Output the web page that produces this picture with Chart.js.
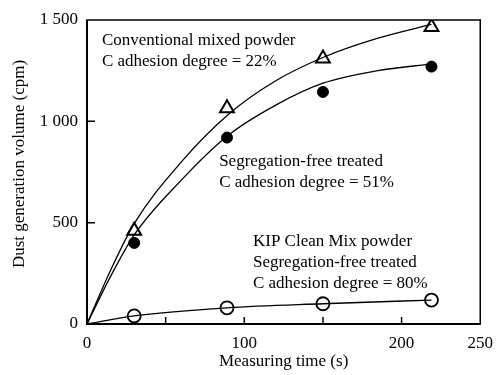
<!DOCTYPE html>
<html>
<head>
<meta charset="utf-8">
<script src="https://cdn.jsdelivr.net/npm/chart.js@4"></script>
<style>
  html, body { margin: 0; padding: 0; background: #fff; }
  #c { display: block; }
</style>
</head>
<body>
<canvas id="c" width="502" height="375"></canvas>
<script>
// ---- data ----
const times = [30, 89, 150, 219];
const conventional = [460, 1065, 1310, 1465];   // open triangles
const segregationFree = [400, 920, 1145, 1270]; // filled circles
const kipCleanMix = [40, 80, 100, 118];         // open circles

// fitted curves as drawn in the figure
const curveTimes = [0, 15, 30, 60, 90, 120, 150, 185, 219];
const conventionalCurve = [0, 265, 495, 800, 1035, 1200, 1315, 1410, 1478];
const segregationFreeCurve = [0, 235, 440, 710, 932, 1080, 1188, 1250, 1283];
const kipCurveTimes = [0, 30, 89, 150, 219];
const kipCurve = [0, 40, 80, 100, 118];

const xTickLabels = ['0', '100', '200', '250'];
const yTickLabels = ['0', '500', '1 000', '1 500'];

const labelsConventional = ['Conventional mixed powder', 'C adhesion degree = 22%'];
const labelsSegregation = ['Segregation-free treated', 'C adhesion degree = 51%'];
const labelsKip = ['KIP Clean Mix powder', 'Segregation-free treated', 'C adhesion degree = 80%'];

const FONT = '"Liberation Serif", "Times New Roman", serif';

function pts(xs, ys) { return xs.map((x, i) => ({ x: x, y: ys[i] })); }

const annotations = [
  { lines: labelsConventional, x: 9.5, y: 1400 },
  { lines: labelsSegregation, x: 84, y: 800 },
  { lines: labelsKip, x: 105.5, y: 405 }
];

const decor = {
  id: 'decor',
  afterDraw(chart) {
    const { ctx, chartArea: a, scales } = chart;
    ctx.save();
    ctx.strokeStyle = '#000';
    // frame
    ctx.lineWidth = 1.5;
    ctx.strokeRect(a.left, a.top, a.right - a.left, a.bottom - a.top);
    ctx.lineWidth = 2;
    ctx.beginPath();
    ctx.moveTo(a.left, a.top); ctx.lineTo(a.left, a.bottom); ctx.lineTo(a.right, a.bottom);
    ctx.stroke();
    // inward tick marks
    ctx.lineWidth = 1.5;
    ctx.beginPath();
    scales.x.ticks.forEach(t => {
      if (t.value <= scales.x.min || t.value >= scales.x.max) return;
      const px = scales.x.getPixelForValue(t.value);
      ctx.moveTo(px, a.bottom); ctx.lineTo(px, a.bottom - 7);
    });
    scales.y.ticks.forEach(t => {
      if (t.value <= scales.y.min || t.value >= scales.y.max) return;
      const py = scales.y.getPixelForValue(t.value);
      ctx.moveTo(a.left, py); ctx.lineTo(a.left + 8, py);
    });
    ctx.stroke();
    // annotations
    ctx.fillStyle = '#000';
    ctx.font = '17px ' + FONT;
    ctx.textAlign = 'left';
    ctx.textBaseline = 'middle';
    annotations.forEach(an => {
      const px = scales.x.getPixelForValue(an.x);
      const py = scales.y.getPixelForValue(an.y);
      an.lines.forEach((s, i) => ctx.fillText(s, px, py + i * 21));
    });
    // axis titles
    ctx.textAlign = 'center';
    ctx.fillText('Measuring time (s)', (a.left + a.right) / 2, 362);
    ctx.translate(20, (a.top + a.bottom) / 2 - 8);
    ctx.rotate(-Math.PI / 2);
    ctx.fillText('Dust generation volume (cpm)', 0, 0);
    ctx.restore();
  }
};

new Chart(document.getElementById('c'), {
  type: 'scatter',
  data: {
    datasets: [
      { type: 'line', data: pts(curveTimes, conventionalCurve), borderColor: '#000', borderWidth: 1.3,
        pointRadius: 0, cubicInterpolationMode: 'monotone', fill: false },
      { type: 'line', data: pts(curveTimes, segregationFreeCurve), borderColor: '#000', borderWidth: 1.3,
        pointRadius: 0, cubicInterpolationMode: 'monotone', fill: false },
      { type: 'line', data: pts(kipCurveTimes, kipCurve), borderColor: '#000', borderWidth: 1.3,
        pointRadius: 0, cubicInterpolationMode: 'monotone', fill: false },
      { label: 'Conventional', data: pts(times, conventional), pointStyle: 'triangle', pointRadius: 8,
        backgroundColor: '#fff', borderColor: '#000', borderWidth: 2 },
      { label: 'Segregation-free', data: pts(times, segregationFree), pointStyle: 'circle', pointRadius: 5.5,
        backgroundColor: '#000', borderColor: '#000', borderWidth: 1 },
      { label: 'KIP', data: pts(times, kipCleanMix), pointStyle: 'circle', pointRadius: 6.5,
        backgroundColor: '#fff', borderColor: '#000', borderWidth: 1.8 }
    ]
  },
  options: {
    responsive: false,
    animation: false,
    devicePixelRatio: 1,
    layout: { padding: { left: 0, top: 20, right: 21, bottom: 0 } },
    plugins: { legend: { display: false }, tooltip: { enabled: false } },
    scales: {
      x: {
        type: 'linear', min: 0, max: 250,
        grid: { display: false, drawTicks: false },
        border: { display: false },
        ticks: {
          stepSize: 50, padding: 9, color: '#000', font: { family: FONT, size: 17 },
          callback: v => xTickLabels.includes(String(v)) ? String(v) : ''
        },
        afterFit: s => { s.height = 51; }
      },
      y: {
        type: 'linear', min: 0, max: 1500,
        grid: { display: false, drawTicks: false },
        border: { display: false },
        ticks: {
          stepSize: 500, padding: 9, color: '#000', font: { family: FONT, size: 17 },
          callback: v => yTickLabels[Math.round(v / 500)]
        },
        afterFit: s => { s.width = 87; }
      }
    }
  },
  plugins: [decor]
});
</script>
</body>
</html>
